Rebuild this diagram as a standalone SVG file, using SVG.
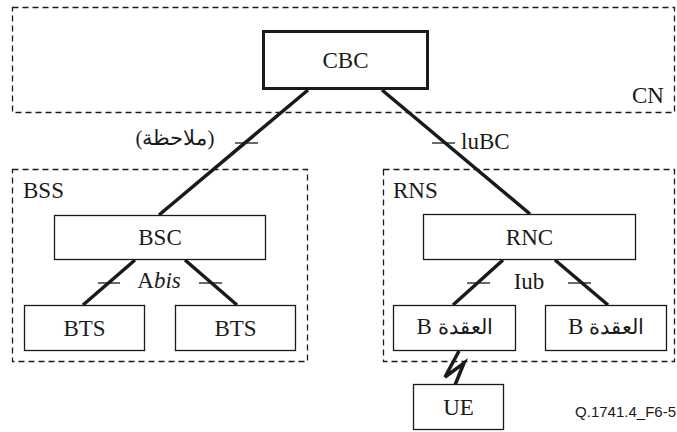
<svg xmlns="http://www.w3.org/2000/svg" width="677" height="432" viewBox="0 0 677 432">
  <style>
    .area { fill: none; stroke: #1a1a1a; stroke-width: 1.3; stroke-dasharray: 6 4; }
    .box { fill: #fff; stroke: #1a1a1a; stroke-width: 1.3; }
    .box-thick { fill: #fff; stroke: #1a1a1a; stroke-width: 3; }
    .link { stroke: #1a1a1a; stroke-width: 3.5; fill: none; }
    .tick { stroke: #1a1a1a; stroke-width: 1.3; }
    .mid { text-anchor: middle; }
  </style>

  <g font-family="Liberation Serif, serif" font-size="23" fill="#1a1a1a">

  <!-- dashed domain outlines -->
  <g id="areas">
    <rect class="area" x="12.5" y="7.5" width="662" height="105"/>
    <rect class="area" x="12.5" y="169.5" width="295" height="192"/>
    <rect class="area" x="383.5" y="169.5" width="291" height="192"/>
    <text x="632" y="103">CN</text>
    <text x="23" y="198">BSS</text>
    <text x="393" y="198">RNS</text>
  </g>

  <!-- connectors, interface ticks and labels -->
  <g id="connectors">
    <line class="link" x1="308" y1="90" x2="159" y2="215"/>
    <line class="link" x1="382" y1="90" x2="530" y2="214"/>
    <line class="link" x1="135" y1="260" x2="83" y2="305"/>
    <line class="link" x1="185" y1="260" x2="237" y2="305"/>
    <line class="link" x1="503" y1="260" x2="453" y2="305"/>
    <line class="link" x1="555" y1="260" x2="608" y2="305"/>
    <polyline class="link" stroke-linejoin="miter" points="459,351 445,377 464,363 455,385"/>

    <line class="tick" x1="235" y1="143" x2="258" y2="143"/>
    <line class="tick" x1="432" y1="143" x2="455" y2="143"/>
    <line class="tick" x1="98" y1="283" x2="120" y2="283"/>
    <line class="tick" x1="199" y1="283" x2="222" y2="283"/>
    <line class="tick" x1="467" y1="283" x2="490" y2="283"/>
    <line class="tick" x1="568" y1="283" x2="591" y2="283"/>

    <text class="mid" x="175" y="145" font-size="21" direction="rtl">(ملاحظة)</text>
    <text x="461" y="149">luBC</text>
    <text class="mid" x="159" y="288">A<tspan font-style="italic">bis</tspan></text>
    <text class="mid" x="529" y="289">Iub</text>
  </g>

  <g id="cbc">
    <rect class="box-thick" x="263.5" y="31.5" width="164" height="57"/>
    <text class="mid" x="345.5" y="68">CBC</text>
  </g>
  <g id="bsc">
    <rect class="box" x="54.5" y="215.5" width="211" height="44"/>
    <text class="mid" x="160" y="245">BSC</text>
  </g>
  <g id="rnc">
    <rect class="box" x="423.5" y="214.5" width="212" height="45"/>
    <text class="mid" x="529.5" y="245">RNC</text>
  </g>
  <g id="bts1">
    <rect class="box" x="24.5" y="305.5" width="120" height="45"/>
    <text class="mid" x="84.5" y="336">BTS</text>
  </g>
  <g id="bts2">
    <rect class="box" x="175.5" y="305.5" width="120" height="45"/>
    <text class="mid" x="235.5" y="336">BTS</text>
  </g>
  <g id="nodeb1">
    <rect class="box" x="393.5" y="305.5" width="122" height="45"/>
    <text class="mid" x="454.5" y="334" direction="rtl"><tspan font-size="21">العقدة</tspan> B</text>
  </g>
  <g id="nodeb2">
    <rect class="box" x="545.5" y="305.5" width="121" height="45"/>
    <text class="mid" x="606" y="334" direction="rtl"><tspan font-size="21">العقدة</tspan> B</text>
  </g>
  <g id="ue">
    <rect class="box" x="413.5" y="384.5" width="90" height="45"/>
    <text class="mid" x="458.5" y="415">UE</text>
  </g>

  <text x="676" y="417" font-family="Liberation Sans, Arial, sans-serif" font-size="15" text-anchor="end">Q.1741.4_F6-5</text>
  </g>
</svg>
